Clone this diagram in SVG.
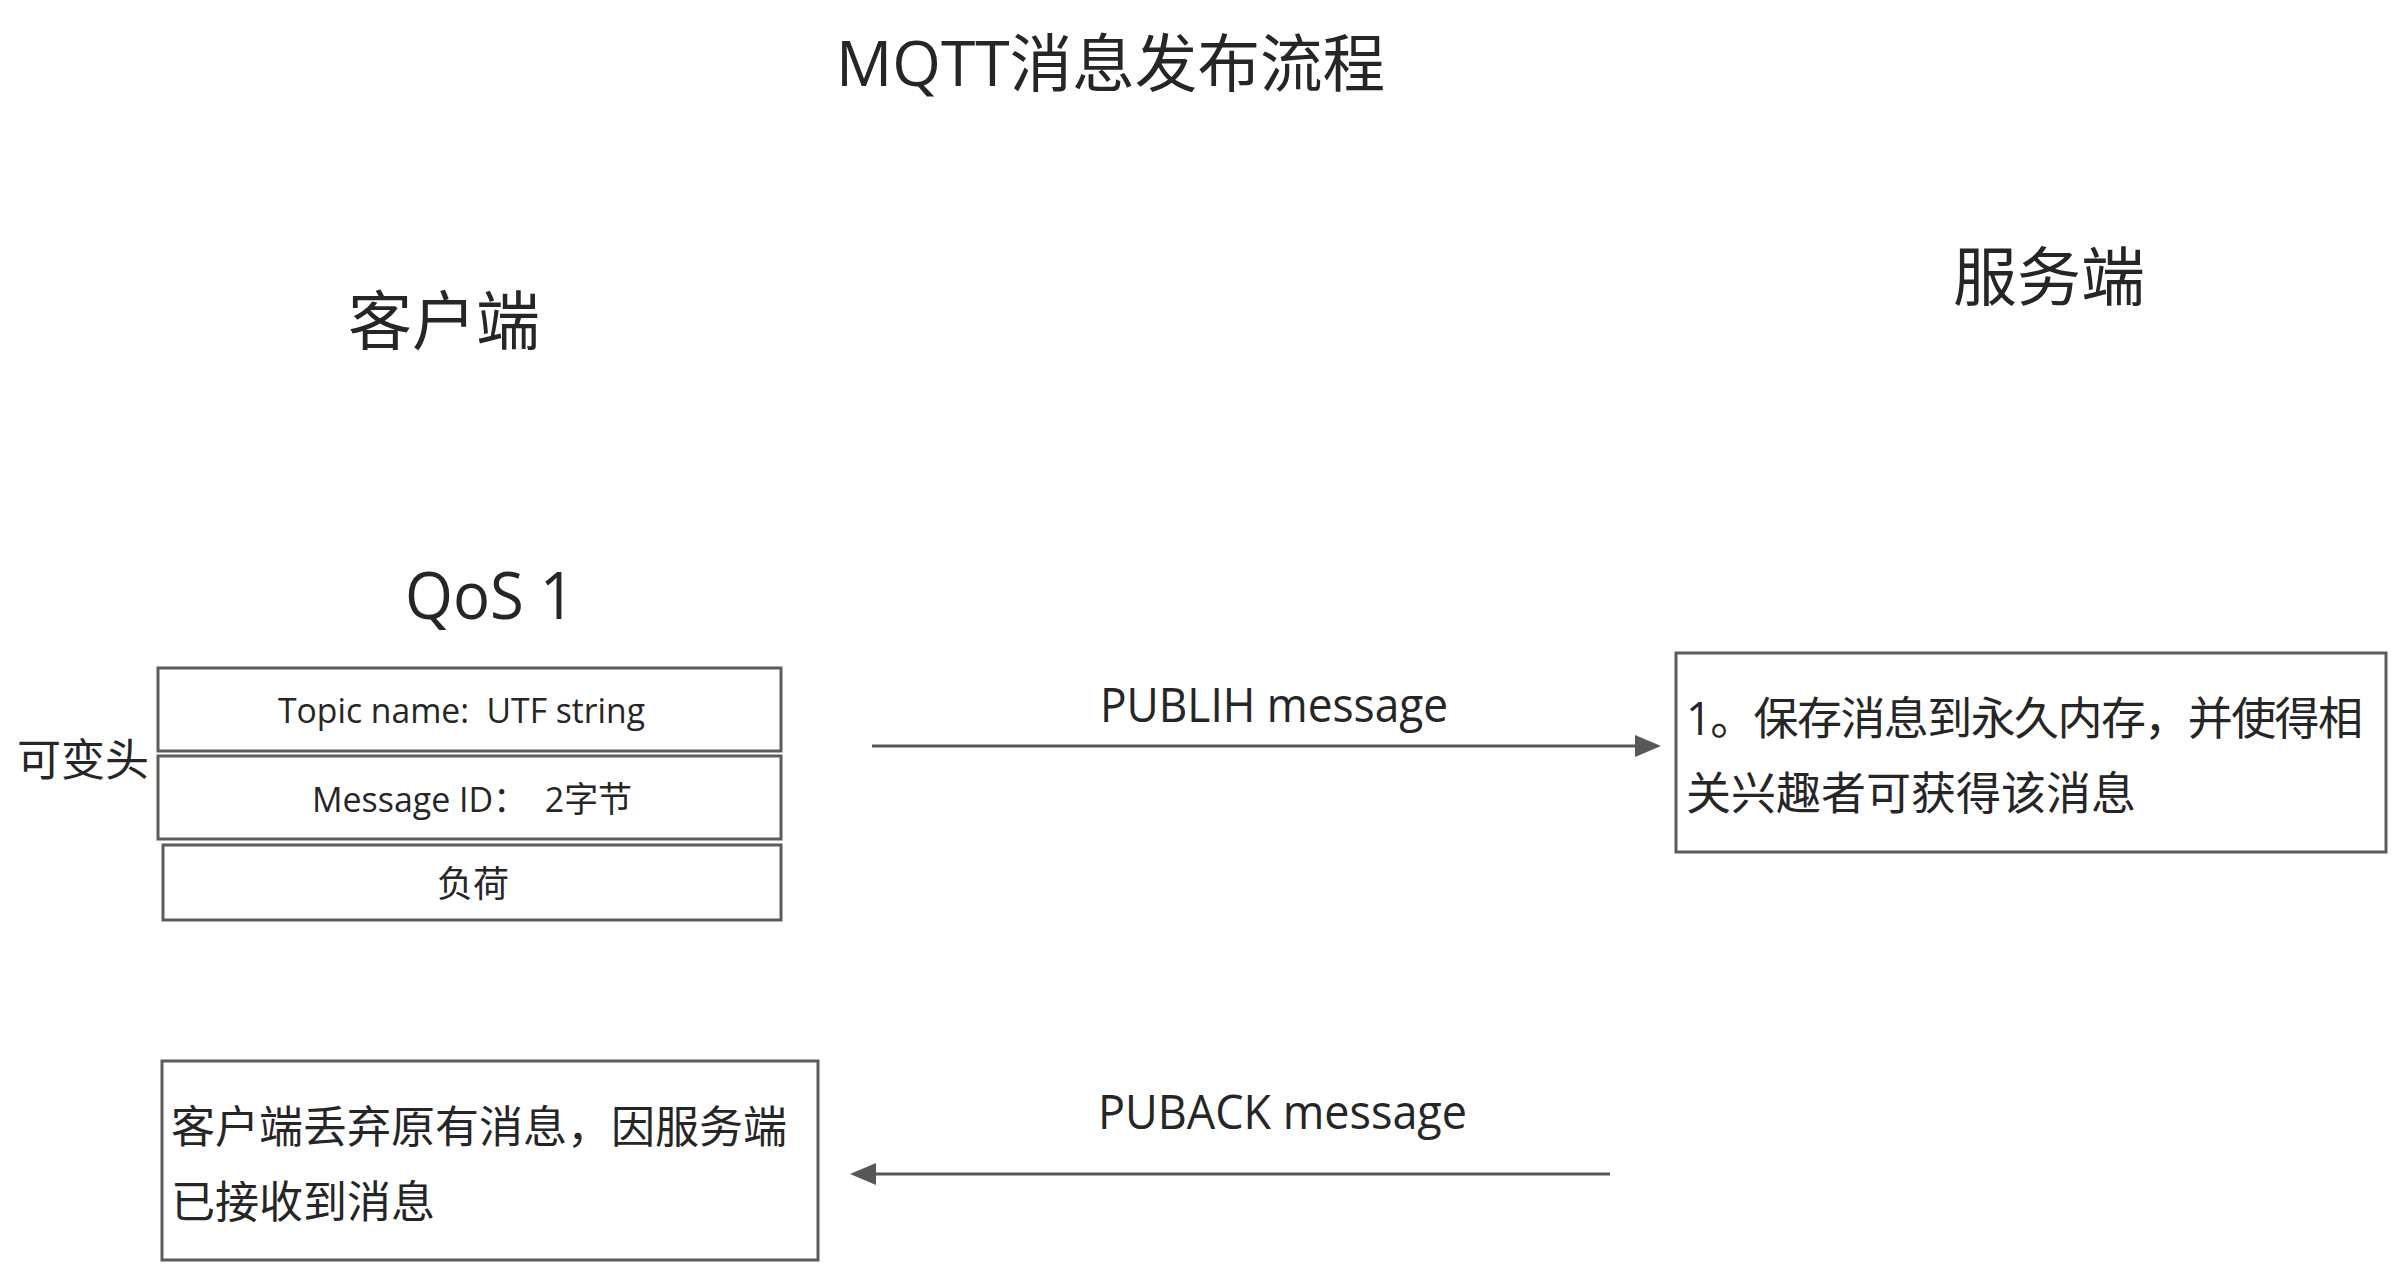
<svg xmlns="http://www.w3.org/2000/svg" width="2392" height="1264" viewBox="0 0 2392 1264">
  <style>
    text { font-family: "Open Sans", "Noto Sans CJK SC", sans-serif; fill: #262626; white-space: pre; }
    .box { fill: #ffffff; stroke: #5c5c5c; stroke-width: 3; }
    .conn { stroke: #575757; stroke-width: 3.2; fill: none; }
  </style>
  <defs>
    <marker id="arrow" viewBox="0 0 26 22" refX="2" refY="11" markerWidth="26" markerHeight="22" markerUnits="userSpaceOnUse" orient="auto">
      <path d="M0,0 L26,11 L0,22 z" fill="#575757"/>
    </marker>
  </defs>
  <rect width="2392" height="1264" fill="#ffffff"/>

  <g id="title">
    <text x="836" y="86" font-size="63" textLength="549" lengthAdjust="spacingAndGlyphs">MQTT消息发布流程</text>
  </g>
  <g id="client-label">
    <text x="348" y="344" font-size="64">客户端</text>
  </g>
  <g id="server-label">
    <text x="1953" y="300" font-size="64">服务端</text>
  </g>
  <g id="qos-label">
    <text x="405" y="619" font-size="65" textLength="170" lengthAdjust="spacingAndGlyphs">QoS 1</text>
  </g>
  <g id="variable-header-label">
    <text x="17" y="776" font-size="44">可变头</text>
  </g>

  <g id="topic-name">
    <rect class="box" x="158" y="668" width="623" height="83"/>
    <text xml:space="preserve" x="278" y="723" font-size="35" textLength="367" lengthAdjust="spacingAndGlyphs">Topic name:  UTF string</text>
  </g>
  <g id="message-id">
    <rect class="box" x="158" y="756" width="623" height="83"/>
    <text xml:space="preserve" x="312" y="812" font-size="35" textLength="320" lengthAdjust="spacingAndGlyphs">Message ID：  2字节</text>
  </g>
  <g id="payload">
    <rect class="box" x="163" y="845" width="618" height="75"/>
    <text x="473" y="897" font-size="36" text-anchor="middle">负荷</text>
  </g>

  <g id="server-box">
    <rect class="box" x="1676" y="653" width="710" height="199"/>
    <text x="1686" y="735" font-size="45" textLength="677" lengthAdjust="spacing">1。保存消息到永久内存，并使得相</text>
    <text x="1686" y="810" font-size="45">关兴趣者可获得该消息</text>
  </g>

  <g id="client-box">
    <rect class="box" x="162" y="1061" width="656" height="199"/>
    <text x="171" y="1143" font-size="44">客户端丢弃原有消息，因服务端</text>
    <text x="171" y="1218" font-size="44">已接收到消息</text>
  </g>

  <g id="connectors">
    <g id="publish">
      <path class="conn" d="M872,746 L1637,746" marker-end="url(#arrow)"/>
      <text x="1100" y="722" font-size="48" textLength="348" lengthAdjust="spacingAndGlyphs">PUBLIH message</text>
    </g>
    <g id="puback">
      <path class="conn" d="M1610,1174 L874,1174" marker-end="url(#arrow)"/>
      <text x="1098" y="1129" font-size="48" textLength="369" lengthAdjust="spacingAndGlyphs">PUBACK message</text>
    </g>
  </g>
</svg>
